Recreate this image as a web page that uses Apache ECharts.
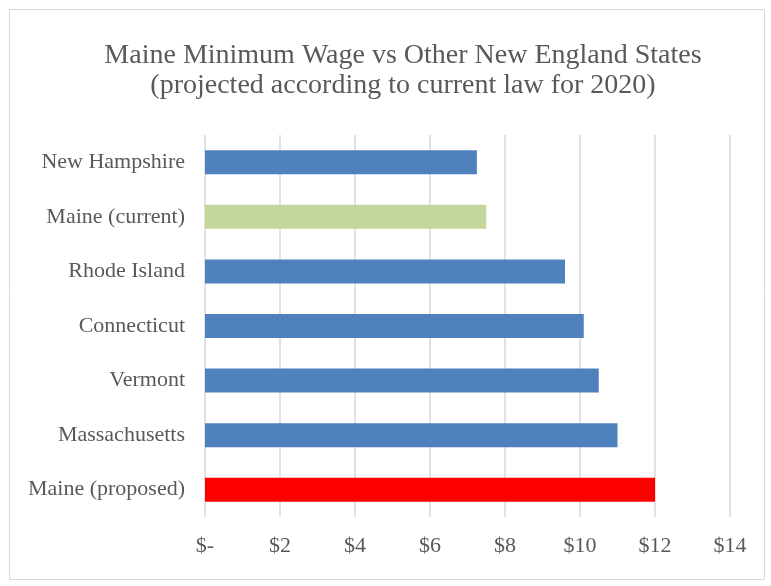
<!DOCTYPE html>
<html>
	<head>
		<meta charset="utf-8">
		<title>Maine Minimum Wage</title>
		<script src="https://cdn.jsdelivr.net/npm/echarts@6/dist/echarts.min.js"></script>
	</head>
	<body style="margin:0">
		<div id="box" style="width: 771px;height: 586px;"></div>
		<script>
			var states = ['New Hampshire', 'Maine (current)', 'Rhode Island', 'Connecticut', 'Vermont', 'Massachusetts', 'Maine (proposed)']
			var wages = [7.25, 7.50, 9.60, 10.10, 10.50, 11.00, 12.00]
			var barColors = ['#4F81BD', '#C3D69B', '#4F81BD', '#4F81BD', '#4F81BD', '#4F81BD', '#FF0000']

			var font = '"Liberation Serif", "DejaVu Serif", serif'
			var mCharts = echarts.init(document.querySelector('#box'))

			var barData = []
			for (var i = 0; i < wages.length; i++) {
				barData.push({ value: wages[i], itemStyle: { color: barColors[i] } })
			}

			var option = {
				animation: false,
				backgroundColor: '#fff',
				graphic: [{
					type: 'rect',
					shape: { x: 9.5, y: 9.5, width: 755, height: 570 },
					style: { fill: 'none', stroke: '#d9d9d9', lineWidth: 1 }
				}],
				title: {
					text: 'Maine Minimum Wage vs Other New England States\n(projected according to current law for 2020)',
					left: 398,
					textAlign: 'center',
					top: 36,
					textStyle: {
						fontFamily: font,
						fontWeight: 'normal',
						fontSize: 28,
						lineHeight: 30,
						color: '#595959'
					}
				},
				grid: {
					left: 205,
					right: 41,
					top: 135,
					bottom: 69
				},
				xAxis: {
					type: 'value',
					min: 0,
					max: 14,
					interval: 2,
					axisLine: { show: false },
					axisTick: { show: false },
					splitLine: { lineStyle: { color: '#d9d9d9', width: 1.5 } },
					axisLabel: {
						margin: 18,
						fontFamily: font,
						fontSize: 22,
						color: '#595959',
						formatter: function (v) {
							return v === 0 ? '$-' : '$' + v
						}
					}
				},
				yAxis: {
					type: 'category',
					data: states,
					inverse: true,
					axisLine: { show: false },
					axisTick: { show: false },
					axisLabel: {
						margin: 20,
						fontFamily: font,
						fontSize: 22,
						color: '#595959'
					}
				},
				series: [{
					type: 'bar',
					data: barData,
					barWidth: 24
				}]
			}
			mCharts.setOption(option)
		</script>
	</body>
</html>
